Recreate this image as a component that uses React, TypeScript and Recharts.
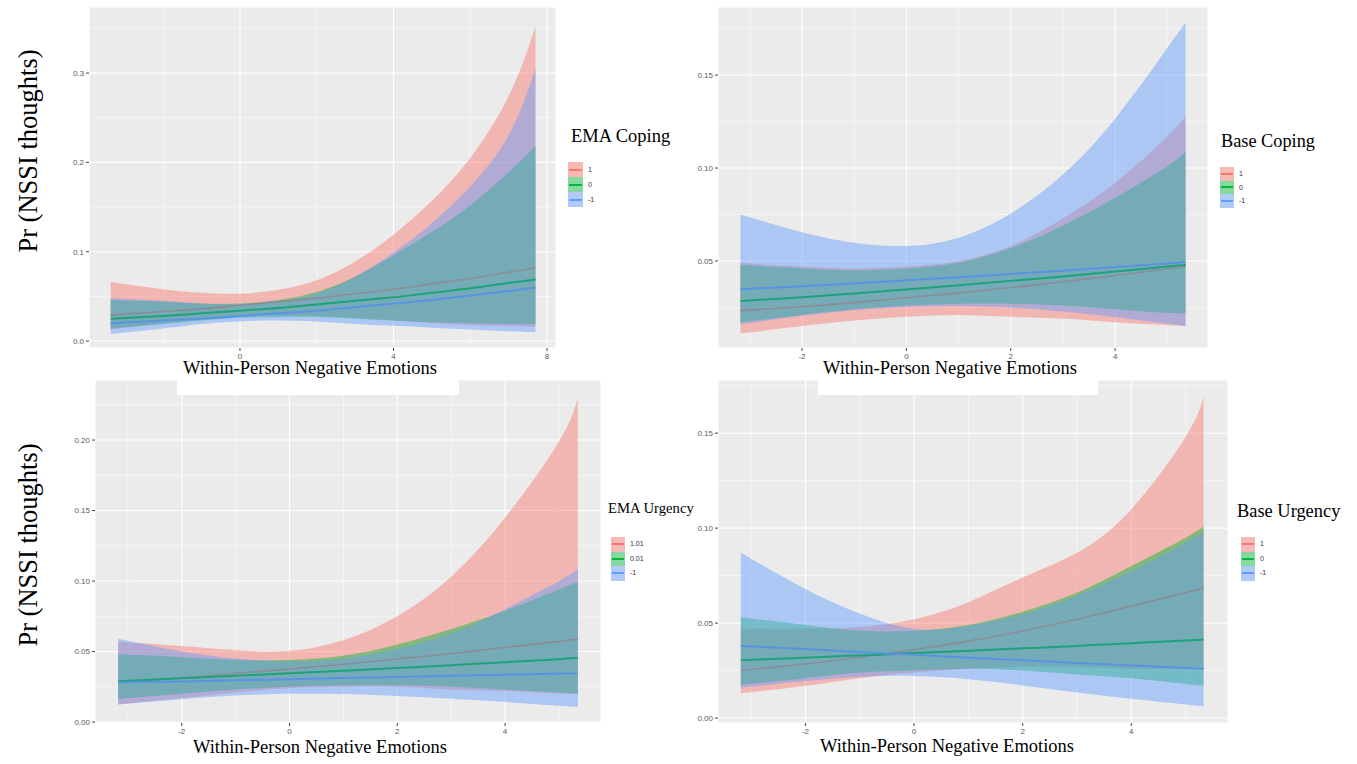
import { ComposedChart, Area, Line, XAxis, YAxis, CartesianGrid } from "recharts";

const SERIF = '"Liberation Serif", "Times New Roman", serif';
const SANS = '"Liberation Sans", Arial, sans-serif';

const RED = "#F8766D";
const GREEN = "#00BA38";
const BLUE = "#619CFF";

// line colours as they show through the stacked ribbons
const RED_LINE = "#8C8B99";
const GREEN_LINE = "#1DA27A";
const BLUE_LINE = "#5A92E4";

// ---- EMA Coping (levels 1, 0, -1) ----
const emaCopingX = [-3.37, -2, -1, 0, 1, 2, 3, 4, 5, 6, 7, 7.7];
const emaCopingFit1 = [0.029, 0.033, 0.036, 0.040, 0.044, 0.048, 0.053, 0.058, 0.064, 0.070, 0.077, 0.082];
const emaCopingLo1 = [0.013, 0.020, 0.0245, 0.0275, 0.029, 0.028, 0.026, 0.023, 0.020, 0.018, 0.017, 0.016];
const emaCopingHi1 = [0.066, 0.058, 0.054, 0.053, 0.0575, 0.068, 0.089, 0.119, 0.157, 0.205, 0.274, 0.352];
const emaCopingFit0 = [0.025, 0.028, 0.031, 0.034, 0.037, 0.041, 0.045, 0.049, 0.054, 0.059, 0.065, 0.069];
const emaCopingLo0 = [0.014, 0.019, 0.023, 0.026, 0.027, 0.027, 0.025, 0.023, 0.021, 0.020, 0.019, 0.019];
const emaCopingHi0 = [0.046, 0.044, 0.042, 0.042, 0.046, 0.055, 0.072, 0.096, 0.122, 0.152, 0.189, 0.218];
const emaCopingFitM1 = [0.020, 0.023, 0.025, 0.028, 0.031, 0.034, 0.038, 0.042, 0.046, 0.051, 0.056, 0.060];
const emaCopingLoM1 = [0.008, 0.014, 0.019, 0.022, 0.023, 0.022, 0.019, 0.017, 0.015, 0.013, 0.011, 0.010];
const emaCopingHiM1 = [0.048, 0.045, 0.042, 0.041, 0.044, 0.053, 0.072, 0.099, 0.132, 0.173, 0.230, 0.305];

// ---- Base Coping (levels 1, 0, -1) ----
const baseCopingX = [-3.18, -2, -1, 0, 1, 2, 3, 4, 5, 5.35];
const baseCopingFit1 = [0.0233, 0.0254, 0.0276, 0.0302, 0.0328, 0.0357, 0.0388, 0.0422, 0.0458, 0.047];
const baseCopingLo1 = [0.011, 0.015, 0.018, 0.020, 0.021, 0.020, 0.019, 0.017, 0.0155, 0.015];
const baseCopingHi1 = [0.049, 0.047, 0.046, 0.047, 0.050, 0.058, 0.073, 0.092, 0.117, 0.128];
const baseCopingFit0 = [0.0285, 0.0305, 0.0325, 0.0347, 0.0369, 0.0393, 0.0417, 0.0443, 0.047, 0.0478];
const baseCopingLo0 = [0.017, 0.021, 0.024, 0.026, 0.027, 0.027, 0.026, 0.024, 0.022, 0.022];
const baseCopingHi0 = [0.048, 0.046, 0.045, 0.046, 0.049, 0.057, 0.069, 0.084, 0.101, 0.109];
const baseCopingFitM1 = [0.0348, 0.0364, 0.038, 0.0396, 0.0413, 0.043, 0.0448, 0.0467, 0.0487, 0.0495];
const baseCopingLoM1 = [0.016, 0.0205, 0.0235, 0.0253, 0.0258, 0.025, 0.0228, 0.0198, 0.0163, 0.015];
const baseCopingHiM1 = [0.075, 0.0655, 0.0598, 0.058, 0.0625, 0.0755, 0.0965, 0.1265, 0.1645, 0.178];

// ---- EMA Urgency (levels 1.01, 0.01, -1) ----
const emaUrgencyX = [-3.18, -2, -1, 0, 1, 2, 3, 4, 5, 5.35];
const emaUrgencyFit1 = [0.028, 0.0312, 0.0345, 0.0376, 0.041, 0.0447, 0.0486, 0.0528, 0.0572, 0.0588];
const emaUrgencyLo1 = [0.0125, 0.017, 0.021, 0.024, 0.025, 0.025, 0.023, 0.022, 0.020, 0.020];
const emaUrgencyHi1 = [0.057, 0.054, 0.051, 0.0505, 0.058, 0.075, 0.103, 0.145, 0.199, 0.230];
const emaUrgencyFit0 = [0.029, 0.031, 0.0328, 0.0346, 0.0364, 0.0383, 0.0403, 0.0424, 0.0446, 0.0455];
const emaUrgencyLo0 = [0.0165, 0.020, 0.023, 0.025, 0.026, 0.026, 0.025, 0.023, 0.021, 0.020];
const emaUrgencyHi0 = [0.048, 0.046, 0.044, 0.044, 0.047, 0.055, 0.066, 0.079, 0.094, 0.0995];
const emaUrgencyFitM1 = [0.028, 0.0288, 0.0296, 0.0304, 0.0312, 0.032, 0.0328, 0.0336, 0.0344, 0.0347];
const emaUrgencyLoM1 = [0.0125, 0.0162, 0.0188, 0.020, 0.0198, 0.0185, 0.0165, 0.0142, 0.0115, 0.0105];
const emaUrgencyHiM1 = [0.059, 0.050, 0.045, 0.043, 0.045, 0.052, 0.063, 0.080, 0.100, 0.1085];

// ---- Base Urgency (levels 1, 0, -1) ----
const baseUrgencyX = [-3.19, -2, -1, 0, 1, 2, 3, 4, 5, 5.33];
const baseUrgencyFit1 = [0.025, 0.0285, 0.032, 0.036, 0.0405, 0.0458, 0.052, 0.059, 0.066, 0.0685];
const baseUrgencyLo1 = [0.013, 0.017, 0.021, 0.024, 0.026, 0.027, 0.027, 0.026, 0.026, 0.0255];
const baseUrgencyHi1 = [0.047, 0.047, 0.048, 0.052, 0.061, 0.074, 0.087, 0.110, 0.148, 0.169];
const baseUrgencyFit0 = [0.0305, 0.0318, 0.033, 0.0342, 0.0355, 0.0367, 0.038, 0.0394, 0.0408, 0.0414];
const baseUrgencyLo0 = [0.0176, 0.021, 0.024, 0.025, 0.026, 0.025, 0.023, 0.021, 0.018, 0.017];
const baseUrgencyHi0 = [0.053, 0.049, 0.046, 0.046, 0.049, 0.056, 0.066, 0.080, 0.095, 0.101];
const baseUrgencyFitM1 = [0.038, 0.0363, 0.0348, 0.0333, 0.0318, 0.0304, 0.029, 0.0277, 0.0264, 0.026];
const baseUrgencyLoM1 = [0.016, 0.0195, 0.0218, 0.0222, 0.0205, 0.0172, 0.0135, 0.0102, 0.0072, 0.0062];
const baseUrgencyHiM1 = [0.087, 0.068, 0.055, 0.047, 0.0485, 0.0545, 0.0645, 0.0775, 0.0925, 0.098];

// axis breaks
const xTicksWide = [0, 4, 8];
const xMinorWide = [-2, 2, 6];
const xTicks = [-2, 0, 2, 4];
const xMinor = [-3, -1, 1, 3, 5];

type Level = { label: string; fit: number[]; lo: number[]; hi: number[]; fill: string; line: string; width: number };

const levels = (labels: string[], fits: number[][], los: number[][], his: number[][]): Level[] => [
  { label: labels[0], fit: fits[0], lo: los[0], hi: his[0], fill: RED, line: RED_LINE, width: 1.6 },
  { label: labels[1], fit: fits[1], lo: los[1], hi: his[1], fill: GREEN, line: GREEN_LINE, width: 2 },
  { label: labels[2], fit: fits[2], lo: los[2], hi: his[2], fill: BLUE, line: BLUE_LINE, width: 2 },
];

type PanelProps = {
  x: number[];
  series: Level[];
  left: number;
  top: number;
  plotW: number;
  plotH: number;
  xDomain: [number, number];
  yDomain: [number, number];
  xTicks: number[];
  xMinor: number[];
  yTicks: number[];
  yMinor: number[];
  yDigits: number;
};

const tickStyle = { fontSize: 8, fill: "#5A5A5A", fontFamily: SANS };

function Panel(p: PanelProps) {
  const rows = p.x.map((v, i) => {
    const row: Record<string, any> = { x: v };
    p.series.forEach((s, k) => {
      row[`band${k}`] = [s.lo[i], s.hi[i]];
      row[`fit${k}`] = s.fit[i];
    });
    return row;
  });

  return (
    <div style={{ position: "absolute", left: p.left - 40, top: p.top - 6 }}>
      <ComposedChart width={p.plotW + 46} height={p.plotH + 30} data={rows} margin={{ top: 6, right: 6, left: 0, bottom: 0 }}>
        <CartesianGrid fill="#EBEBEB" stroke="#FFFFFF" strokeWidth={1.1} />
        {/* minor grid */}
        <CartesianGrid stroke="#FFFFFF" strokeWidth={0.5} horizontalValues={p.yMinor} verticalValues={p.xMinor} />
        <XAxis
          type="number"
          dataKey="x"
          domain={p.xDomain}
          ticks={p.xTicks}
          interval={0}
          allowDataOverflow
          height={24}
          axisLine={false}
          tickSize={3}
          tickLine={{ stroke: "#444" }}
          tick={tickStyle}
        />
        <YAxis
          type="number"
          domain={p.yDomain}
          ticks={p.yTicks}
          interval={0}
          allowDataOverflow
          width={40}
          axisLine={false}
          tickSize={3}
          tickMargin={2}
          tickLine={{ stroke: "#444" }}
          tick={tickStyle}
          tickFormatter={(v: number) => v.toFixed(p.yDigits)}
        />
        {p.series.map((s, k) => (
          <Area
            key={`band${k}`}
            dataKey={`band${k}`}
            type="natural"
            stroke="none"
            fill={s.fill}
            fillOpacity={0.45}
            dot={false}
            activeDot={false}
            isAnimationActive={false}
          />
        ))}
        {p.series.map((s, k) => (
          <Line
            key={`fit${k}`}
            dataKey={`fit${k}`}
            type="natural"
            stroke={s.line}
            strokeWidth={s.width}
            dot={false}
            activeDot={false}
            isAnimationActive={false}
          />
        ))}
      </ComposedChart>
    </div>
  );
}

function Legend(props: { title: string; titleLeft: number; titleTop: number; titleSize: number; keyLeft: number; keyTop: number; keyW: number; keyH: number; series: Level[] }) {
  const { keyLeft, keyTop, keyW, keyH } = props;
  return (
    <>
      <div style={{ position: "absolute", left: props.titleLeft, top: props.titleTop, fontFamily: SERIF, fontSize: props.titleSize, lineHeight: 1, whiteSpace: "nowrap", color: "#000" }}>
        {props.title}
      </div>
      {props.series.map((s, i) => (
        <div key={s.label}>
          <div style={{ position: "absolute", left: keyLeft, top: keyTop + i * keyH, width: keyW, height: keyH, background: "#F2F2F2" }}>
            <div style={{ position: "absolute", inset: 0, background: `${s.fill}73` }} />
            <div style={{ position: "absolute", left: 1, right: 1, top: keyH / 2 - 1, height: 2, background: s.fill }} />
          </div>
          <div style={{ position: "absolute", left: keyLeft + keyW + 5, top: keyTop + i * keyH, lineHeight: `${keyH}px`, fontFamily: SANS, fontSize: 7, color: "#333" }}>
            {s.label}
          </div>
        </div>
      ))}
    </>
  );
}

function XTitle({ cx, top, box }: { cx: number; top: number; box?: [number, number, number, number] }) {
  return (
    <>
      {box && <div style={{ position: "absolute", left: box[0], top: box[1], width: box[2] - box[0], height: box[3] - box[1], background: "#fff" }} />}
      <div style={{ position: "absolute", left: cx - 200, width: 400, top, textAlign: "center", fontFamily: SERIF, fontSize: 18.5, lineHeight: 1, color: "#000", whiteSpace: "nowrap" }}>
        Within-Person Negative Emotions
      </div>
    </>
  );
}

function YTitle({ cy }: { cy: number }) {
  return (
    <div
      style={{
        position: "absolute",
        left: 28 - 130,
        top: cy - 15,
        width: 260,
        height: 30,
        lineHeight: "30px",
        textAlign: "center",
        transform: "rotate(-90deg)",
        fontFamily: SERIF,
        fontSize: 26.5,
        color: "#000",
        whiteSpace: "nowrap",
      }}
    >
      Pr (NSSI thoughts)
    </div>
  );
}

export default function App() {
  const emaCoping = levels(["1", "0", "-1"], [emaCopingFit1, emaCopingFit0, emaCopingFitM1], [emaCopingLo1, emaCopingLo0, emaCopingLoM1], [emaCopingHi1, emaCopingHi0, emaCopingHiM1]);
  const baseCoping = levels(["1", "0", "-1"], [baseCopingFit1, baseCopingFit0, baseCopingFitM1], [baseCopingLo1, baseCopingLo0, baseCopingLoM1], [baseCopingHi1, baseCopingHi0, baseCopingHiM1]);
  const emaUrgency = levels(["1.01", "0.01", "-1"], [emaUrgencyFit1, emaUrgencyFit0, emaUrgencyFitM1], [emaUrgencyLo1, emaUrgencyLo0, emaUrgencyLoM1], [emaUrgencyHi1, emaUrgencyHi0, emaUrgencyHiM1]);
  const baseUrgency = levels(["1", "0", "-1"], [baseUrgencyFit1, baseUrgencyFit0, baseUrgencyFitM1], [baseUrgencyLo1, baseUrgencyLo0, baseUrgencyLoM1], [baseUrgencyHi1, baseUrgencyHi0, baseUrgencyHiM1]);

  return (
    <div style={{ position: "absolute", left: 0, top: 0, width: 1357, height: 764, background: "#fff", overflow: "hidden" }}>
      {/* bottom row first so the top row's axis titles sit over it */}
      <Panel
        x={emaUrgencyX}
        series={emaUrgency}
        left={95}
        top={380}
        plotW={506}
        plotH={343}
        xDomain={[-3.61, 5.78]}
        yDomain={[-0.0007, 0.2426]}
        xTicks={xTicks}
        xMinor={xMinor}
        yTicks={[0, 0.05, 0.1, 0.15, 0.2]}
        yMinor={[0.025, 0.075, 0.125, 0.175, 0.225]}
        yDigits={2}
      />
      <Panel
        x={baseUrgencyX}
        series={baseUrgency}
        left={718}
        top={380}
        plotW={510}
        plotH={343}
        xDomain={[-3.61, 5.78]}
        yDomain={[-0.0026, 0.178]}
        xTicks={xTicks}
        xMinor={xMinor}
        yTicks={[0, 0.05, 0.1, 0.15]}
        yMinor={[0.025, 0.075, 0.125, 0.175]}
        yDigits={2}
      />
      <Panel
        x={emaCopingX}
        series={emaCoping}
        left={89}
        top={7}
        plotW={467}
        plotH={341}
        xDomain={[-3.935, 8.235]}
        yDomain={[-0.0078, 0.374]}
        xTicks={xTicksWide}
        xMinor={xMinorWide}
        yTicks={[0, 0.1, 0.2, 0.3]}
        yMinor={[0.05, 0.15, 0.25, 0.35]}
        yDigits={1}
      />
      <Panel
        x={baseCopingX}
        series={baseCoping}
        left={718}
        top={7}
        plotW={490}
        plotH={341}
        xDomain={[-3.61, 5.78]}
        yDomain={[0.0032, 0.1866]}
        xTicks={xTicks}
        xMinor={xMinor}
        yTicks={[0.05, 0.1, 0.15]}
        yMinor={[0.025, 0.075, 0.125, 0.175]}
        yDigits={2}
      />

      <XTitle cx={310} top={359} box={[177, 361, 459, 395]} />
      <XTitle cx={950} top={359} box={[818, 361, 1098, 395]} />
      <XTitle cx={320} top={738} />
      <XTitle cx={947} top={737} />

      <YTitle cy={151} />
      <YTitle cy={545} />

      <Legend title="EMA Coping" titleLeft={571} titleTop={126.5} titleSize={18.5} keyLeft={568} keyTop={162} keyW={15} keyH={15} series={emaCoping} />
      <Legend title="Base Coping" titleLeft={1221} titleTop={131.5} titleSize={18.3} keyLeft={1220} keyTop={167} keyW={14} keyH={13.5} series={baseCoping} />
      <Legend title="EMA Urgency" titleLeft={608} titleTop={501} titleSize={14.7} keyLeft={611} keyTop={537} keyW={14} keyH={14.5} series={emaUrgency} />
      <Legend title="Base Urgency" titleLeft={1237} titleTop={501.5} titleSize={18.4} keyLeft={1241} keyTop={537} keyW={14} keyH={14.5} series={baseUrgency} />
    </div>
  );
}
